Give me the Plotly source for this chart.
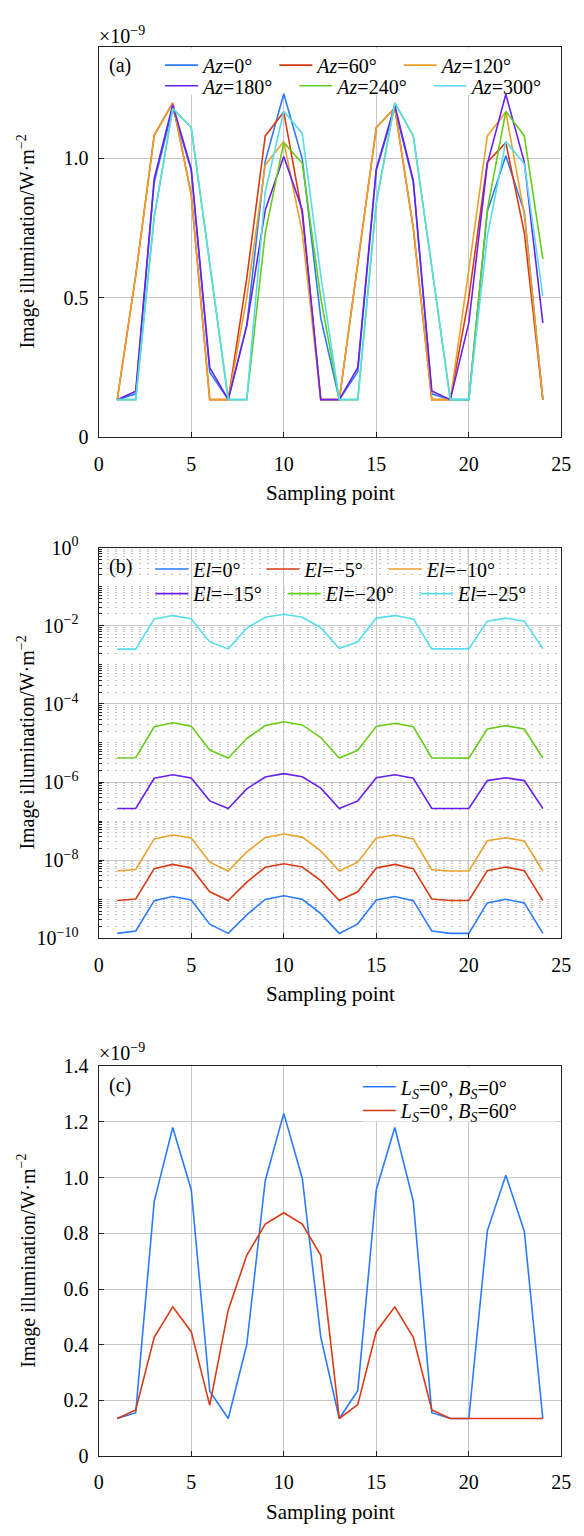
import plotly.graph_objects as go

# ---------------- data ----------------
points = list(range(1, 25))

# panel (a): image illumination (x1e-9 W/m^2) for several azimuths
az_labels = ["0", "60", "120", "180", "240", "300"]
az_0 = [0.135, 0.156, 0.915, 1.18, 0.957, 0.233, 0.135, 0.40, 0.99, 1.231, 0.998, 0.427,
        0.135, 0.235, 0.957, 1.18, 0.915, 0.156, 0.135, 0.135, 0.809, 1.009, 0.807, 0.135]
az_60 = [0.135, 0.58, 1.082, 1.198, 0.87, 0.135, 0.135, 0.57, 1.08, 1.166, 0.80, 0.135,
         0.135, 0.62, 1.11, 1.18, 0.75, 0.135, 0.135, 0.50, 0.986, 1.056, 0.733, 0.135]
az_120 = [0.135, 0.58, 1.082, 1.198, 0.87, 0.135, 0.135, 0.50, 0.976, 1.06, 0.733, 0.135,
          0.135, 0.62, 1.11, 1.18, 0.75, 0.135, 0.135, 0.60, 1.08, 1.166, 0.80, 0.135]
az_180 = [0.135, 0.165, 0.927, 1.192, 0.962, 0.25, 0.135, 0.40, 0.815, 1.006, 0.815, 0.135,
          0.135, 0.25, 0.962, 1.19, 0.92, 0.166, 0.135, 0.41, 0.98, 1.229, 0.986, 0.41]
az_240 = [0.135, 0.135, 0.79, 1.178, 1.11, 0.63, 0.135, 0.135, 0.733, 1.056, 0.982, 0.50,
          0.135, 0.135, 0.84, 1.198, 1.08, 0.61, 0.135, 0.135, 0.815, 1.168, 1.08, 0.639]
az_300 = [0.135, 0.135, 0.79, 1.178, 1.11, 0.63, 0.135, 0.135, 0.88, 1.168, 1.089, 0.58,
          0.135, 0.135, 0.84, 1.198, 1.08, 0.61, 0.135, 0.135, 0.72, 1.06, 0.98, 0.507]

# panel (b): image illumination (W/m^2) for several elevations
el_labels = ["0", "\u22125", "\u221210", "\u221215", "\u221220", "\u221225"]
el_0 = [1.34e-10, 1.55e-10, 9.2e-10, 1.18e-9, 9.6e-10, 2.3e-10, 1.34e-10, 4.0e-10, 9.9e-10, 1.23e-9,
        1.0e-9, 4.3e-10, 1.34e-10, 2.35e-10, 9.6e-10, 1.18e-9, 9.2e-10, 1.55e-10, 1.34e-10, 1.34e-10,
        8.1e-10, 1.0e-9, 8.1e-10, 1.34e-10]
el_5 = [9.3e-10, 1.02e-9, 6.1e-9, 7.8e-9, 6.3e-9, 1.56e-9, 9.3e-10, 2.74e-9, 6.6e-9, 8.1e-9,
        6.7e-9, 3.0e-9, 9.3e-10, 1.56e-9, 6.3e-9, 7.8e-9, 6.1e-9, 1.02e-9, 9.3e-10, 9.3e-10,
        5.4e-9, 6.7e-9, 5.4e-9, 9.3e-10]
el_10 = [5.3e-9, 5.8e-9, 3.5e-8, 4.4e-8, 3.7e-8, 8.9e-9, 5.3e-9, 1.63e-8, 3.8e-8, 4.7e-8,
         3.9e-8, 1.73e-8, 5.3e-9, 8.9e-9, 3.7e-8, 4.4e-8, 3.5e-8, 5.7e-9, 5.3e-9, 5.3e-9,
         3.15e-8, 3.75e-8, 3.1e-8, 5.3e-9]
el_15 = [2.1e-7, 2.1e-7, 1.25e-6, 1.54e-6, 1.27e-6, 3.3e-7, 2.1e-7, 6.7e-7, 1.35e-6, 1.64e-6,
         1.37e-6, 7.0e-7, 2.1e-7, 3.3e-7, 1.29e-6, 1.54e-6, 1.25e-6, 2.1e-7, 2.1e-7, 2.1e-7,
         1.09e-6, 1.29e-6, 1.09e-6, 2.1e-7]
el_20 = [4.14e-6, 4.2e-6, 2.6e-5, 3.3e-5, 2.7e-5, 6.6e-6, 4.14e-6, 1.3e-5, 2.8e-5, 3.5e-5,
         2.9e-5, 1.38e-5, 4.14e-6, 6.5e-6, 2.66e-5, 3.2e-5, 2.6e-5, 4.14e-6, 4.14e-6, 4.1e-6,
         2.28e-5, 2.77e-5, 2.28e-5, 4.14e-6]
el_25 = [2.52e-3, 2.52e-3, 1.5e-2, 1.82e-2, 1.52e-2, 3.86e-3, 2.56e-3, 8.7e-3, 1.65e-2, 1.96e-2,
         1.65e-2, 8.9e-3, 2.6e-3, 3.9e-3, 1.57e-2, 1.82e-2, 1.5e-2, 2.56e-3, 2.56e-3, 2.56e-3,
         1.31e-2, 1.57e-2, 1.31e-2, 2.6e-3]

# panel (c): image illumination (x1e-9 W/m^2) for two sun positions
bs_labels = ["0", "60"]
bs_0 = [0.135, 0.156, 0.915, 1.18, 0.957, 0.233, 0.135, 0.40, 0.99, 1.231, 0.998, 0.427,
        0.135, 0.235, 0.957, 1.18, 0.915, 0.156, 0.135, 0.135, 0.809, 1.009, 0.807, 0.135]
bs_60 = [0.135, 0.166, 0.427, 0.536, 0.447, 0.182, 0.525, 0.721, 0.833, 0.874, 0.833, 0.721,
         0.135, 0.185, 0.447, 0.536, 0.427, 0.166, 0.135, 0.135, 0.135, 0.135, 0.135, 0.135]

x_ticks = [0, 5, 10, 15, 20, 25]
a_ticks = [0, 0.5, 1.0]
a_ticktext = ["0", "0.5", "1.0"]
b_ticks = [1e-10, 1e-8, 1e-6, 1e-4, 1e-2, 1e0]
b_ticktext = ["10<sup>\u221210</sup>", "10<sup>\u22128</sup>", "10<sup>\u22126</sup>",
              "10<sup>\u22124</sup>", "10<sup>\u22122</sup>", "10<sup>0</sup>"]
c_ticks = [0, 0.2, 0.4, 0.6, 0.8, 1.0, 1.2, 1.4]
c_ticktext = ["0", "0.2", "0.4", "0.6", "0.8", "1.0", "1.2", "1.4"]

# ---------------- style ----------------
OFF = 8                      # page body margin
W, H = 584 - OFF, 1536 - OFF  # figure size
FONT = "Liberation Serif"
COLORS = ["#2A7BFF", "#D93A14", "#EBA12B", "#6A20F0", "#66CC1A", "#55DDEE"]
PAD = "\u00a0\u00a0\u00a0"

X_L, X_R = 96, 571
PANELS = {"a": (34, 431), "b": (543, 940), "c": (1070, 1466)}


def fx(p):
    return (p - OFF) / W


def fy(p):
    return 1 - (p - OFF) / H


X_DOM = [fx(X_L), fx(X_R)]

fig = go.Figure()


def pad(i):
    return PAD if i % 3 != 2 else ""


az_series = [az_0, az_60, az_120, az_180, az_240, az_300]
for i, (lab, ys) in enumerate(zip(az_labels, az_series)):
    fig.add_trace(go.Scatter(
        x=points, y=ys, mode="lines", name="<i>Az</i>=" + lab + "\u00b0" + pad(i),
        line=dict(color=COLORS[i], width=1.6), xaxis="x", yaxis="y",
        legend="legend7" if i < 3 else "legend8"))

el_series = [el_0, el_5, el_10, el_15, el_20, el_25]
for i, (lab, ys) in enumerate(zip(el_labels, el_series)):
    fig.add_trace(go.Scatter(
        x=points, y=ys, mode="lines", name="<i>El</i>=" + lab + "\u00b0" + pad(i),
        line=dict(color=COLORS[i], width=1.6), xaxis="x2", yaxis="y2",
        legend="legend3" if i < 3 else "legend4"))

bs_series = [bs_0, bs_60]
for i, (lab, ys) in enumerate(zip(bs_labels, bs_series)):
    fig.add_trace(go.Scatter(
        x=points, y=ys, mode="lines",
        name="<i>L<sub>S</sub></i>=0\u00b0, <i>B<sub>S</sub></i>=" + lab + "\u00b0",
        line=dict(color=COLORS[i], width=1.6), xaxis="x3", yaxis="y3",
        legend="legend5" if i == 0 else "legend6"))

tickfont = dict(family=FONT, size=20, color="#000")
GRID = "#c8c8c8"


def xaxis(anchor):
    return dict(domain=X_DOM, anchor=anchor, range=[0, 25], tickmode="array", tickvals=x_ticks,
                ticks="inside", ticklen=5, tickwidth=1.3, tickcolor="#222",
                showline=True, linecolor="#222", linewidth=1.4, mirror=True,
                showgrid=True, gridcolor=GRID, gridwidth=1.3, zeroline=False,
                tickfont=tickfont, ticklabelstandoff=8)


def ydom(key):
    t, b = PANELS[key]
    return [fy(b), fy(t)]


def yaxis(anchor, key, **kw):
    d = dict(domain=ydom(key), anchor=anchor, ticks="inside", ticklen=5, tickwidth=1.3,
             tickcolor="#222", showline=True, linecolor="#222", linewidth=1.4, mirror=True,
             showgrid=True, gridcolor=GRID, gridwidth=1.3, zeroline=False,
             tickfont=tickfont, tickmode="array")
    d.update(kw)
    return d


def legend(xpx, ypx):
    # ypx is the centre of the legend row; anchor the box by its top edge
    return dict(x=fx(xpx), y=fy(ypx - 17), xanchor="left", yanchor="top", orientation="h",
                bgcolor="rgba(0,0,0,0)", borderwidth=0, itemwidth=33,
                font=dict(family=FONT, size=20, color="#000"))


annotations = []


def ann(text, xpx, ypx, xanchor="left", angle=0, size=20):
    annotations.append(dict(text=text, x=fx(xpx), y=fy(ypx), xref="paper", yref="paper",
                            xanchor=xanchor, yanchor="middle", showarrow=False, textangle=angle,
                            font=dict(family=FONT, size=size, color="#000")))


for key, (t, b) in PANELS.items():
    ann("Image illumination/W\u00b7m<sup>\u22122</sup>", 22, (t + b) / 2, xanchor="center", angle=-90)
    ann("Sampling point", (X_L + X_R) / 2, b + 57, xanchor="center", size=21)
    ann("(" + key + ")", 105, t + 19)
ann("\u00d710<sup>\u22129</sup>", 94, 22)
ann("\u00d710<sup>\u22129</sup>", 94, 1055)


# white boxes behind the legends (between grid lines and traces), given in pixels
def dx(p):
    return (p - X_L) / (X_R - X_L) * 25


def dy_lin(p, key):
    t, b = PANELS[key]
    return (b - p) / (b - t) * 1.4


def dy_log(p, key):
    t, b = PANELS[key]
    return -10 + (b - p) / (b - t) * 10


def white_box(xr, yr, x0, x1, y0, y1):
    return dict(type="rect", xref=xr, yref=yr, x0=x0, x1=x1, y0=y0, y1=y1,
                fillcolor="white", line=dict(width=0), layer="between")


shapes = [
    white_box("x", "y", dx(165), dx(562), dy_lin(83, "a"), dy_lin(36, "a")),
    white_box("x2", "y2", dx(150), dx(562), dy_log(604, "b"), dy_log(546, "b")),
    white_box("x3", "y3", dx(367), dx(566), dy_lin(1126, "c"), dy_lin(1071, "c")),
]

fig.update_layout(
    width=W, height=H, margin=dict(l=0, r=0, t=0, b=0),
    paper_bgcolor="white", plot_bgcolor="white", showlegend=True,
    font=dict(family=FONT, size=20, color="#000"),
    xaxis=xaxis("y"),
    yaxis=yaxis("x", "a", range=[0, 1.4], tickvals=a_ticks, ticktext=a_ticktext, ticklabelstandoff=5),
    xaxis2=xaxis("y2"),
    yaxis2=yaxis("x2", "b", type="log", range=[-10, 0], tickvals=b_ticks, ticktext=b_ticktext,
                 ticklabelstandoff=15,
                 minor=dict(dtick="D1", showgrid=True, gridcolor="#c4c4c4", gridwidth=1,
                            griddash="2px,6px", ticks="inside", ticklen=3, tickcolor="#222")),
    xaxis3=xaxis("y3"),
    yaxis3=yaxis("x3", "c", range=[0, 1.4], tickvals=c_ticks, ticktext=c_ticktext, ticklabelstandoff=5),
    legend7=legend(159, 50),
    legend8=legend(159, 71),
    legend3=legend(149, 562),
    legend4=legend(149, 587),
    legend5=legend(362, 1088),
    legend6=legend(362, 1112),
    annotations=annotations,
    shapes=shapes,
)

fig.write_html("out.html")
